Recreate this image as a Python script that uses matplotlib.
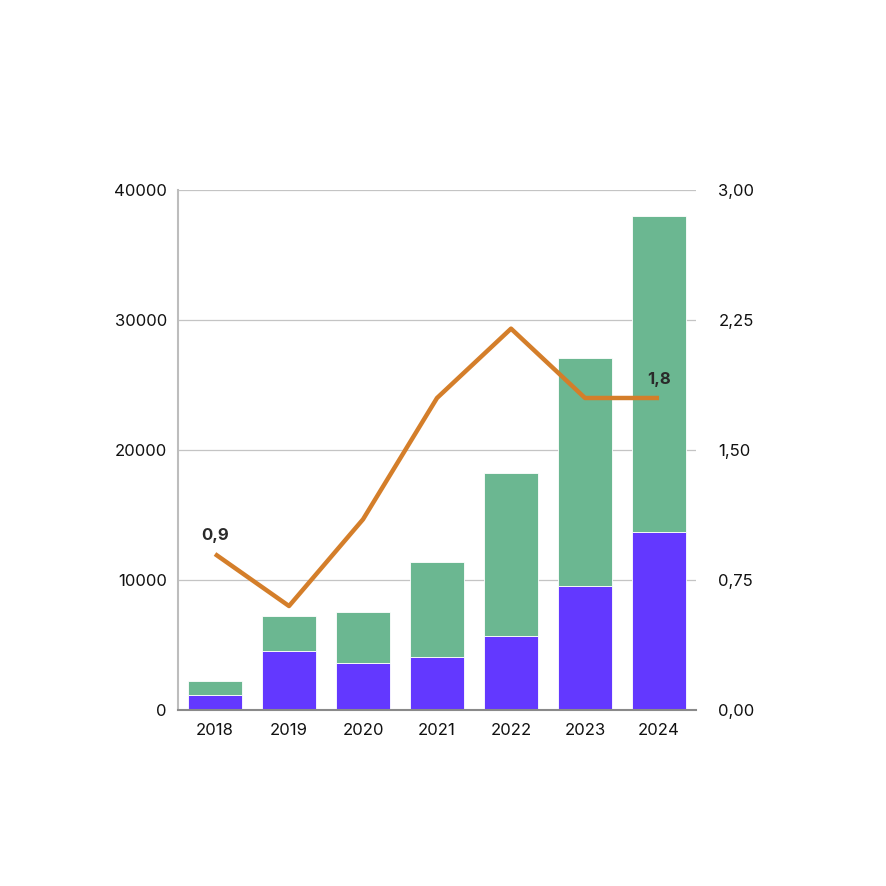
import numpy as np
import matplotlib.pyplot as plt
from matplotlib.ticker import FuncFormatter

plt.rcParams['font.family'] = ['Inter', 'DejaVu Sans']

years = ['2018', '2019', '2020', '2021', '2022', '2023', '2024']
purple_vals = [1150, 4550, 3600, 4080, 5700, 9550, 13700]
totals = [2230, 7250, 7550, 11400, 18200, 27100, 38000]
green_vals = [t - p for t, p in zip(totals, purple_vals)]
ratio = [0.9, 0.6, 1.1, 1.8, 2.2, 1.8, 1.8]

left_ticks = [0, 10000, 20000, 30000, 40000]
right_ticks = [0, 0.75, 1.5, 2.25, 3.0]

purple = '#6338FF'
green = '#6BB791'
orange = '#D47E2A'

fig = plt.figure(figsize=(8.86, 8.86), dpi=100)
ax = fig.add_axes([0.2009, 0.1986, 0.5847, 0.587])
x = np.arange(len(years))

ax.bar(x, purple_vals, width=0.74, color=purple, edgecolor='white', linewidth=0.6, zorder=2)
ax.bar(x, green_vals, bottom=purple_vals, width=0.74, color=green, edgecolor='white', linewidth=0.6, zorder=2)

ax.set_xlim(-0.5, len(years) - 0.5)
ax.set_ylim(0, 40000)
ax.set_yticks(left_ticks)
ax.set_xticks(x)
ax.set_xticklabels(years)
ax.yaxis.grid(True, color='#c4c4c4', linewidth=0.9, zorder=0)
ax.set_axisbelow(True)
ax.tick_params(axis='both', length=0, labelsize=12, colors='#111111')
ax.tick_params(axis='x', pad=9)
ax.tick_params(axis='y', pad=8)
for side in ['top', 'right']:
    ax.spines[side].set_visible(False)
ax.spines['left'].set_color('#bdbdbd')
ax.spines['left'].set_linewidth(1.5)
ax.spines['bottom'].set_color('#8a8a8a')
ax.spines['bottom'].set_linewidth(1.5)
ax.spines['bottom'].set_zorder(3)

ax2 = ax.twinx()
ax2.plot(x, ratio, color=orange, linewidth=3.2, solid_capstyle='butt', zorder=4)
ax2.set_ylim(0, 3.0)
ax2.set_yticks(right_ticks)
ax2.yaxis.set_major_formatter(FuncFormatter(lambda v, p: f'{v:.2f}'.replace('.', ',')))
ax2.tick_params(axis='y', length=0, labelsize=12, colors='#111111', pad=16)
for side in ['top', 'right', 'left', 'bottom']:
    ax2.spines[side].set_visible(False)

for i in [0, len(years) - 1]:
    ax2.annotate(f'{ratio[i]}'.replace('.', ','), (x[i], ratio[i]), xytext=(0, 8),
                 textcoords='offset points', ha='center', va='bottom',
                 fontsize=12, fontweight='bold', color='#2a2a2a')

fig.savefig('out.png', dpi=100, facecolor='white')
